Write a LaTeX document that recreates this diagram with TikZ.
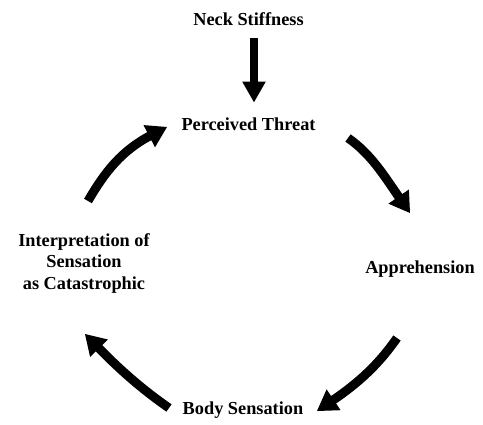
\documentclass[tikz,border=0pt]{standalone}
\usepackage{fontspec}
\setmainfont{Liberation Serif}
\usetikzlibrary{arrows.meta}
\begin{document}
\begin{tikzpicture}[x=1pt,y=-1pt,
  lbl/.style={font=\bfseries\fontsize{18.3}{21.5}\selectfont, inner sep=0pt, anchor=base, align=center},
  shaft/.style={line width=9pt, line cap=butt},
  head/.style={fill=black},
  downarrow/.style={line width=8pt, -{Triangle[length=21pt,width=22pt]}},
]
\useasboundingbox[fill=white] (0,0) rectangle (483,425);
\node[lbl] (neck) at (248.5,26) {Neck Stiffness};
\node[lbl] (threat) at (248.5,131) {Perceived Threat};
\node[lbl] (appr) at (420,274) {Apprehension};
\node[lbl] (body) at (243,415) {Body Sensation};
\node[lbl, anchor=north] (interp) at (84,233) {Interpretation of\\Sensation\\as Catastrophic};

% arc end points (tail, head base, head tip)
\coordinate (a1s) at (88,201);  \coordinate (a1b) at (151,135.3); \coordinate (a1t) at (167,127);
\coordinate (a2s) at (348,138); \coordinate (a2b) at (399.7,198.2); \coordinate (a2t) at (410,213);
\coordinate (a3s) at (397,338); \coordinate (a3b) at (331.9,400.9); \coordinate (a3t) at (317,411);
\coordinate (a4s) at (169,408); \coordinate (a4b) at (97.6,346.9); \coordinate (a4t) at (85,334);

\draw[downarrow] ([xshift=5.5pt,yshift=-12pt]neck.south) -- ([xshift=5.5pt,yshift=15.5pt]threat.north);

% Interpretation -> Perceived Threat
\draw[shaft] (a1s) .. controls (104.5,172.4) and (121.6,150.5) .. (a1b);
\fill[head] (a1t) -- (155,147.3) -- (143.5,125.1) -- cycle;
% Perceived Threat -> Apprehension
\draw[shaft] (a2s) .. controls (371,154) and (383.7,175.2) .. (a2b);
\fill[head] (a2t) -- (408.9,189.5) -- (388.4,203.7) -- cycle;
% Apprehension -> Body Sensation
\draw[shaft] (a3s) .. controls (378.8,364.2) and (358.5,383) .. (a3b);
\fill[head] (a3t) -- (340.6,410.2) -- (326.6,389.4) -- cycle;
% Body Sensation -> Interpretation
\draw[shaft] (a4s) .. controls (142,389.2) and (120.7,370.5) .. (a4b);
\fill[head] (a4t) -- (107.9,339.5) -- (90.1,357) -- cycle;
\end{tikzpicture}
\end{document}
